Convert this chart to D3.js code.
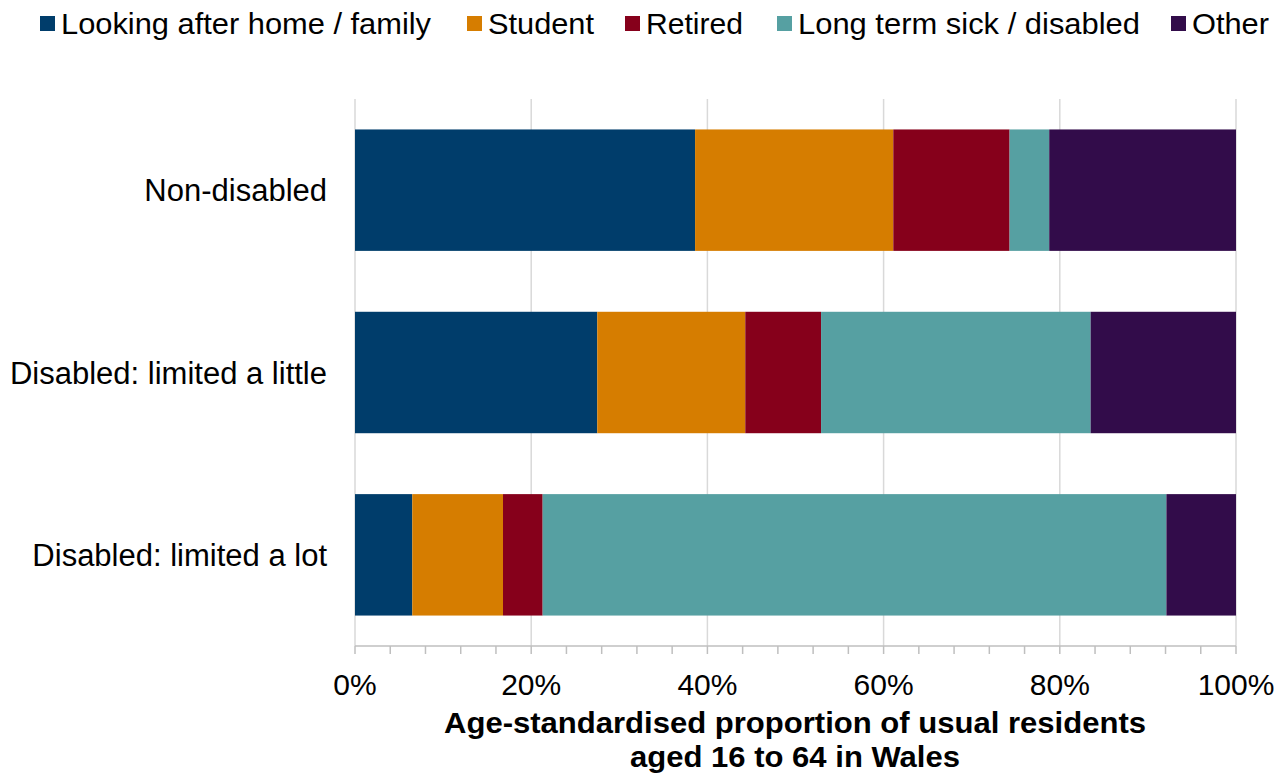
<!DOCTYPE html>
<html>
<head>
<meta charset="utf-8">
<script src="https://cdn.jsdelivr.net/npm/d3@7"></script>
<style>
  html, body { margin: 0; padding: 0; background: #fff; }
  svg { display: block; font-family: "Liberation Sans", Arial, sans-serif; }
</style>
</head>
<body>
<svg id="chart" width="1287" height="774"></svg>
<script>
// Economic inactivity categories (stack order, left to right)
const seriesNames = ["Looking after home / family", "Student", "Retired", "Long term sick / disabled", "Other"];
const seriesColors = ["#003d6b", "#d67d00", "#86001b", "#56a0a2", "#320c4a"];

// Disability status groups (top to bottom)
const groups = ["Non-disabled", "Disabled: limited a little", "Disabled: limited a lot"];

// Percentage shares per group, one array per category
const lookingAfter = [38.6, 27.5, 6.5];
const student      = [22.5, 16.8, 10.3];
const retired      = [13.2, 8.6, 4.5];
const longTermSick = [4.5, 30.6, 70.8];
const other        = [21.2, 16.5, 7.9];

const xTicks = [0, 20, 40, 60, 80, 100];
const xMinorTicks = d3.range(0, 101, 4);
const axisTitle = ["Age-standardised proportion of usual residents", "aged 16 to 64 in Wales"];

const seriesValues = [lookingAfter, student, retired, longTermSick, other];
const rows = groups.map((g, i) => {
  const r = { group: g };
  seriesNames.forEach((s, k) => { r[s] = seriesValues[k][i]; });
  return r;
});

const svg = d3.select("#chart");
const plot = { left: 355, right: 1236, top: 99, bottom: 646 };

const x = d3.scaleLinear().domain([0, 100]).range([plot.left, plot.right]);
const y = d3.scaleBand().domain(groups).range([plot.top, plot.bottom])
  .paddingInner(0.334).paddingOuter(0.167);

// Vertical gridlines
svg.append("g").selectAll("line").data(xTicks).join("line")
  .attr("x1", d => x(d)).attr("x2", d => x(d))
  .attr("y1", plot.top).attr("y2", plot.bottom)
  .attr("stroke", "#d9d9d9").attr("stroke-width", 1.5);

// Stacked bars
const stack = d3.stack().keys(seriesNames);
const layers = stack(rows);
svg.append("g").selectAll("g").data(layers).join("g")
  .attr("fill", (d, i) => seriesColors[i])
  .selectAll("rect").data(d => d).join("rect")
  .attr("x", d => x(d[0]))
  .attr("width", d => x(d[1]) - x(d[0]))
  .attr("y", d => y(d.data.group))
  .attr("height", y.bandwidth());

// Bottom axis: baseline, minor ticks and labels
const axisG = svg.append("g");
axisG.append("line")
  .attr("x1", plot.left).attr("x2", plot.right)
  .attr("y1", plot.bottom).attr("y2", plot.bottom)
  .attr("stroke", "#bfbfbf").attr("stroke-width", 1.5);
axisG.selectAll("line.tick").data(xMinorTicks).join("line")
  .attr("class", "tick")
  .attr("x1", d => x(d)).attr("x2", d => x(d))
  .attr("y1", plot.bottom).attr("y2", plot.bottom + 8)
  .attr("stroke", "#bfbfbf").attr("stroke-width", 1.5);
axisG.selectAll("text").data(xTicks).join("text")
  .attr("x", d => x(d)).attr("y", 695)
  .attr("text-anchor", "middle")
  .attr("font-size", 30).attr("fill", "#000")
  .text(d => d + "%");

// Category labels
svg.append("g").selectAll("text").data(groups).join("text")
  .attr("x", 327)
  .attr("y", d => y(d) + y.bandwidth() / 2 + 11)
  .attr("text-anchor", "end")
  .attr("font-size", 31).attr("fill", "#000")
  .text(d => d);

// Axis title
const titleW = [702, 330];
svg.append("g").selectAll("text").data(axisTitle).join("text")
  .attr("x", 795)
  .attr("y", (d, i) => 733 + i * 34)
  .attr("text-anchor", "middle")
  .attr("font-size", 30).attr("font-weight", "bold").attr("fill", "#000")
  .attr("textLength", (d, i) => titleW[i])
  .attr("lengthAdjust", "spacingAndGlyphs")
  .text(d => d);

// Legend
const legendX = [40, 467, 625, 777, 1171];
const legendW = [370, 106, 97, 342, 77];
const legend = svg.append("g").selectAll("g").data(seriesNames).join("g")
  .attr("transform", (d, i) => `translate(${legendX[i]},0)`);
legend.append("rect")
  .attr("x", 0).attr("y", 16).attr("width", 15).attr("height", 15)
  .attr("fill", (d, i) => seriesColors[i]);
legend.append("text")
  .attr("x", 21).attr("y", 34)
  .attr("font-size", 30).attr("fill", "#000")
  .attr("textLength", (d, i) => legendW[i])
  .attr("lengthAdjust", "spacingAndGlyphs")
  .text(d => d);
</script>
</body>
</html>
